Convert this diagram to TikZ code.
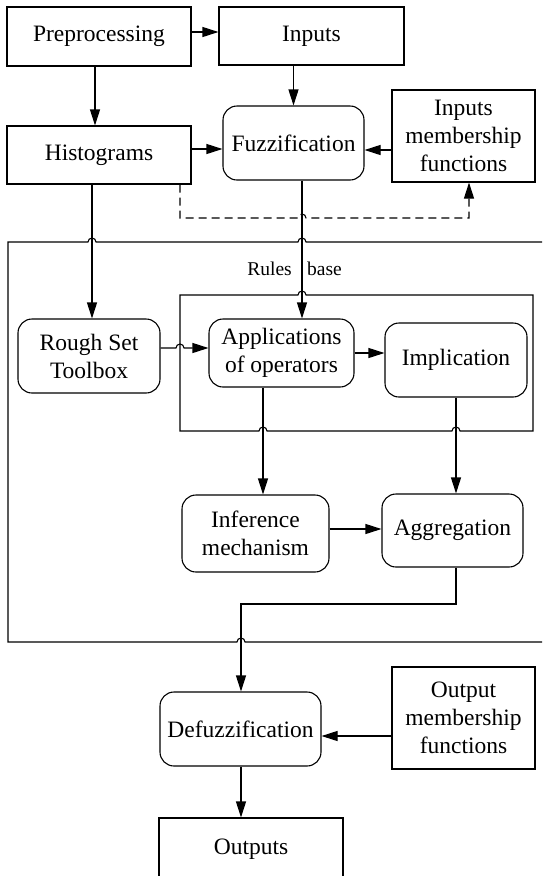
\documentclass[tikz,border=0pt]{standalone}
\usepackage{fontspec}
\setmainfont{Liberation Serif}
\usetikzlibrary{arrows.meta}
\begin{document}
\begin{tikzpicture}[x=1pt,y=-1pt,
  every node/.style={font=\fontsize{23.5}{28}\selectfont},
  sq/.style={draw,line width=1.1pt,inner sep=0pt,align=center},
  rnd/.style={sq,rounded corners=14pt},
  arr/.style={line width=1.1pt,-{Triangle[length=16pt,width=10pt]}},
  frame/.style={line width=1.1pt},
  lbl/.style={font=\fontsize{19.5}{22}\selectfont,inner sep=0pt}]
\useasboundingbox (0,0) rectangle (542,876);
% nodes
\node[sq,minimum width=184,minimum height=59] (pre) at (99,36.5) {Preprocessing};
\node[sq,minimum width=185,minimum height=58] (inputs) at (311.5,36) {Inputs};
\node[sq,minimum width=184,minimum height=58] (hist) at (99,155) {Histograms};
\node[rnd,minimum width=141,minimum height=74] (fuzz) at (293.5,143) {Fuzzification};
\node[sq,minimum width=143,minimum height=92] (imf) at (463.5,136) {Inputs\\membership\\functions};
\node[rnd,minimum width=142,minimum height=74] (rough) at (89,356) {Rough Set\\Toolbox};
\node[rnd,minimum width=145,minimum height=68] (app) at (281.5,353) {Applications\\of operators};
\node[rnd,minimum width=142,minimum height=74] (impl) at (456,360) {Implication};
\node[rnd,minimum width=147,minimum height=77] (inf) at (255.5,533.5) {Inference\\mechanism};
\node[rnd,minimum width=141,minimum height=73] (agg) at (452.5,530.5) {Aggregation};
\node[rnd,minimum width=161,minimum height=74] (defuzz) at (240.5,729) {Defuzzification};
\node[sq,minimum width=143,minimum height=102] (omf) at (463.5,718) {Output\\membership\\functions};
\node[sq,minimum width=184,minimum height=62] (outputs) at (251,849) {Outputs};
\node[lbl,anchor=east] (rules) at (292,269) {Rules};
\node[lbl,anchor=west] (base) at (307,269) {base};
% frames
\draw[frame] (542,242) -- (306,242) arc(0:180:4pt) -- (96,242) arc(0:180:4pt) -- (8,242) -- (8,642) -- (237,642) arc(180:0:4pt) -- (542,642);
\draw[frame] (180,295) -- (298,295) arc(180:0:4pt) -- (533,295) -- (533,431) -- (460,431) arc(0:180:4pt) -- (267,431) arc(0:180:4pt) -- (180,431) -- cycle;
% coordinates
\coordinate (d1) at (180,218);
\coordinate (d2) at (469,218);
\coordinate (k1) at (456,604);
\coordinate (k2) at (241,604);
% connectors
\draw[arr] ([yshift=4.5pt]pre.east) -- ([yshift=4.5pt]pre.east -| inputs.west);
\draw[arr] ([xshift=-4pt]pre.south) -- ([xshift=-4pt]pre.south |- hist.north);
\draw[arr] (inputs.south -| fuzz.north) -- (fuzz.north);
\draw[arr] ([yshift=6pt]hist.east) -- ([yshift=6pt]hist.east -| fuzz.west);
\draw[arr] ([yshift=-14pt]imf.west) -- ([yshift=-14pt]imf.west -| fuzz.east);
\draw[arr,dash pattern=on 8pt off 5pt] (hist.south -| d1) -- (d1) -- (298,218) arc(180:0:4pt) -- (d2) -- (d2 |- imf.south);
\draw[arr] ([xshift=8.5pt]fuzz.south) -- ([xshift=8.5pt]fuzz.south |- app.north);
\draw[arr] ([xshift=-7pt]hist.south) -- ([xshift=-7pt]hist.south |- rough.north);
\draw[arr] ([yshift=8pt]rough.east) -- (176,348) arc(180:0:4pt) -- ([yshift=8pt]rough.east -| app.west);
\draw[arr] (app.east) -- (app.east -| impl.west);
\draw[arr] ([xshift=-18.5pt]app.south) -- ([xshift=-18.5pt]app.south |- inf.north);
\draw[arr] (impl.south) -- (impl.south |- agg.north);
\draw[arr] ([yshift=4.5pt]inf.east) -- ([yshift=4.5pt]inf.east -| agg.west);
\draw[arr] (agg.south -| k1) -- (k1) -- (k2) -- (k2 |- defuzz.north);
\draw[arr] ([yshift=-18pt]omf.west) -- ([yshift=-18pt]omf.west -| defuzz.east);
\draw[arr] (defuzz.south -| k2) -- (k2 |- outputs.north);
\end{tikzpicture}
\end{document}
